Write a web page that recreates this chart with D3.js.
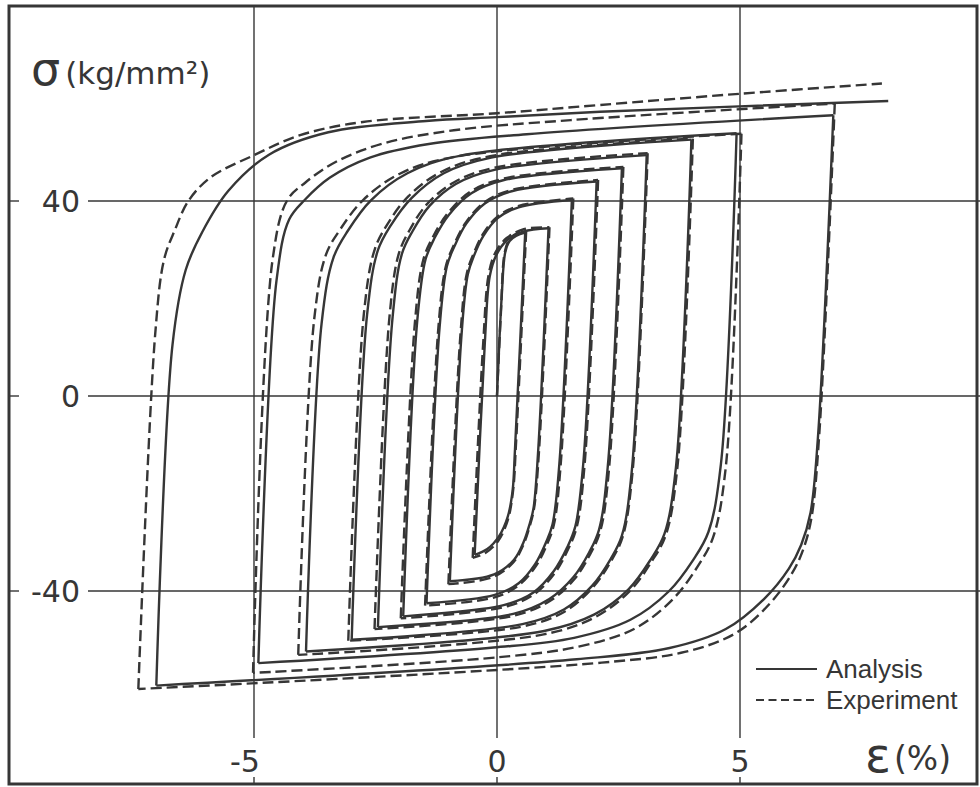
<!DOCTYPE html>
<html>
<head>
<meta charset="utf-8">
<script src="https://cdn.jsdelivr.net/npm/d3@7"></script>
<style>
  body { margin: 0; background: #fff; }
  svg text { fill: #363636; }
</style>
</head>
<body>
<svg id="chart"></svg>
<script>
// axis ticks
const strainTicks = [-5, 0, 5];
const stressTicks = [-40, 0, 40];
const legendItems = ["Analysis", "Experiment"];

// half cycles, points are [strain %, stress kg/mm2]
const analysisBranches = [
  [[0,0],[0.1,21],[0.17,29.5],[0.26,31.8],[0.4,32.9],[0.58,33.5]],
  [[0.58,33.5],[0.37,-11],[0.32,-19.5],[0.22,-24.8],[0.04,-28.8],[-0.2,-31.4],[-0.46,-32.6]],
  [[-0.46,-32.6],[-0.25,11],[-0.15,24.5],[-0.02,28.8],[0.2,31.9],[0.54,33.7],[1.06,34.4]],
  [[1.06,34.4],[0.843,-11.9],[0.75,-23.1],[0.67,-26.3],[0.55,-29.9],[0.35,-33.6],[-0.06,-36.6],[-0.97,-38]],
  [[-0.97,-38],[-0.728,12.8],[-0.60,25.0],[-0.477,28.7],[-0.283,32.8],[0.015,36.5],[0.445,38.7],[1.54,40.2]],
  [[1.54,40.2],[1.283,-13.9],[1.143,-26.3],[1.005,-30.1],[0.784,-34.5],[0.446,-38.4],[-0.046,-40.8],[-1.45,-42.5]],
  [[-1.45,-42.5],[-1.181,14.1],[-1.031,26.6],[-0.876,30.7],[-0.629,35.4],[-0.25,39.5],[0.302,42.0],[2.05,44]],
  [[2.05,44],[1.774,-14],[1.613,-26.7],[1.442,-31.1],[1.17,-35.9],[0.749,-40.3],[0.137,-42.9],[-1.93,-45.2]],
  [[-1.93,-45.2],[-1.642,15.3],[-1.471,28],[-1.285,32.4],[-0.988,37.2],[-0.527,41.6],[0.145,44.3],[2.57,46.7]],
  [[2.57,46.7],[2.278,-14.6],[2.097,-27.5],[1.895,-32.1],[1.57,-37.2],[1.069,-41.7],[0.335,-44.7],[-2.45,-47.4]],
  [[-2.45,-47.4],[-2.147,16.3],[-1.955,29.2],[-1.738,33.8],[-1.389,39],[-0.847,43.5],[-0.053,46.4],[3.08,49.4]],
  [[3.08,49.4],[2.771,-15.6],[2.568,-28.7],[2.335,-33.5],[1.96,-38.9],[1.376,-43.8],[0.522,-46.8],[-2.99,-50]],
  [[-2.99,-50],[-2.672,16.8],[-2.45,29.9],[-2.185,35],[-1.759,40.6],[-1.094,45.7],[-0.119,48.9],[4.0,52.6]],
  [[4.0,52.6],[3.679,-14.9],[3.445,-28.3],[3.165,-33.5],[2.711,-39.6],[2.006,-44.8],[0.97,-48.2],[-3.93,-52.4]],
  [[-3.93,-52.4],[-3.61,14.8],[-3.365,28.4],[-3.069,33.9],[-2.589,40.2],[-1.843,45.7],[-0.746,49.3],[4.93,53.9]],
  [[4.93,53.9],[4.606,-14.1],[4.35,-27.9],[4.038,-33.6],[3.532,-40.1],[2.745,-45.9],[1.587,-49.6],[-0.07,-51.6],[-4.91,-54.8]],
  [[-4.91,-54.8],[-4.536,23.75],[-4.277,36.2],[-3.958,40.2],[-3.436,44.8],[-2.616,48.9],[-1.403,51.7],[0.61,53.7],[6.92,57.6]],
  [[6.92,57.6],[6.6,-9],[6.45,-24],[6.26,-30.5],[6.006,-35.4],[5.498,-41.6],[4.708,-47.8],[3.55,-51.7],[1.64,-54],[-7.01,-59.4]],
  [[-7.01,-59.4],[-6.677,10.5],[-6.404,25.9],[-6.067,33.6],[-5.527,42.1],[-4.692,49.5],[-3.47,54.1],[-1.459,56.4],[0,57.2],[2.12,58.3],[8.05,60.5]]
];

const experimentBranches = [
  [[0,0],[0.08,17],[0.16,29.5],[0.26,32.2],[0.42,33.4],[0.6,33.8]],
  [[0.6,33.8],[0.39,-10],[0.33,-19.5],[0.22,-25.5],[0.02,-29.8],[-0.24,-32.2],[-0.5,-33.2]],
  [[-0.5,-33.2],[-0.283,11],[-0.17,25],[-0.03,29.5],[0.2,32.4],[0.55,34.2],[1.08,34.6]],
  [[1.08,34.6],[0.863,-11.5],[0.76,-23.2],[0.67,-26.8],[0.54,-30.6],[0.33,-34.2],[-0.1,-37.2],[-1.0,-38.6]],
  [[-1.0,-38.6],[-0.753,12.5],[-0.62,25.2],[-0.49,29.0],[-0.29,33.2],[0.01,36.8],[0.45,39.0],[1.57,40.5]],
  [[1.57,40.5],[1.313,-13.7],[1.17,-26.4],[1.03,-30.4],[0.8,-34.9],[0.45,-38.8],[-0.05,-41.3],[-1.48,-43]],
  [[-1.48,-43],[-1.208,13.8],[-1.055,26.5],[-0.895,30.8],[-0.64,35.6],[-0.25,39.8],[0.31,42.3],[2.08,44.3]],
  [[2.08,44.3],[1.803,-14],[1.64,-26.9],[1.465,-31.4],[1.19,-36.3],[0.76,-40.7],[0.14,-43.3],[-1.98,-45.6]],
  [[-1.98,-45.6],[-1.688,15.2],[-1.515,28],[-1.325,32.5],[-1.02,37.4],[-0.55,41.9],[0.14,44.6],[2.6,47]],
  [[2.6,47],[2.308,-14.6],[2.125,-27.7],[1.92,-32.4],[1.59,-37.6],[1.08,-42.1],[0.33,-45.1],[-2.52,-47.8]],
  [[-2.52,-47.8],[-2.213,16.2],[-2.02,29.2],[-1.8,34],[-1.445,39.3],[-0.89,43.8],[-0.07,46.8],[3.1,49.8]],
  [[3.1,49.8],[2.788,-15.7],[2.585,-28.9],[2.35,-33.8],[1.97,-39.3],[1.38,-44.3],[0.51,-47.3],[-3.06,-50.2]],
  [[-3.06,-50.2],[-2.738,17],[-2.515,30.1],[-2.25,35.3],[-1.82,41],[-1.14,46],[-0.14,49.2],[4.03,52.8]],
  [[4.03,52.8],[3.708,-15],[3.47,-28.6],[3.185,-33.9],[2.725,-40.1],[2.01,-45.4],[0.96,-48.9],[-4.09,-53.1]],
  [[-4.09,-53.1],[-3.763,15.6],[-3.519,29],[-3.224,34.2],[-2.745,40.3],[-2.0,45.6],[-0.903,49],[5.03,53.8]],
  [[5.03,53.8],[4.703,-15],[4.446,-29],[4.133,-34.9],[3.626,-41.6],[2.837,-47.7],[1.68,-51.4],[0.02,-53.6],[-5.02,-56.8]],
  [[-5.02,-56.8],[-4.616,28.1],[-4.319,40.1],[-3.941,43.8],[-3.321,48],[-2.343,51.8],[-0.89,54.5],[1.52,56.6],[6.95,60]],
  [[6.95,60],[6.63,-8],[6.47,-25],[6.3,-31.5],[6.069,-36.4],[5.611,-42.6],[4.902,-48.7],[3.864,-52.5],[2.153,-54.7],[-7.38,-60.1]],
  [[-7.38,-60.1],[-7.033,12.7],[-6.85,28],[-6.63,34],[-6.35,40],[-5.9,44.8],[-5.0,49.4],[-4.05,53.5],[-2.76,56.2],[0,58],[2.12,59.7],[5,62],[7.92,64.1]]
];

const width = 980, height = 787;
const ink = "#363636";
const frame = { left: 9, top: 6, right: 977, bottom: 784 };

const svg = d3.select("#chart")
  .attr("width", width)
  .attr("height", height);

const x = d3.scaleLinear().domain([-5, 5]).range([254, 740]);
const y = d3.scaleLinear().domain([-40, 40]).range([591, 201]);

// grid
const grid = svg.append("g")
  .attr("stroke", ink)
  .attr("stroke-width", 1.4);

grid.selectAll(".vtop")
  .data(strainTicks)
  .enter().append("line")
  .attr("x1", d => x(d)).attr("x2", d => x(d))
  .attr("y1", frame.top).attr("y2", 738);

grid.selectAll(".vbot")
  .data(strainTicks)
  .enter().append("line")
  .attr("x1", d => x(d)).attr("x2", d => x(d))
  .attr("y1", 777).attr("y2", frame.bottom);

grid.selectAll(".hline")
  .data(stressTicks)
  .enter().append("line")
  .attr("x1", 88).attr("x2", width)
  .attr("y1", d => y(d)).attr("y2", d => y(d));

grid.selectAll(".htick")
  .data(stressTicks)
  .enter().append("line")
  .attr("x1", frame.left).attr("x2", 19)
  .attr("y1", d => y(d)).attr("y2", d => y(d));

// frame
svg.append("path")
  .attr("d", `M${frame.right},${frame.top}H${frame.left}V${frame.bottom}H${frame.right}Z`)
  .attr("fill", "none")
  .attr("stroke", ink)
  .attr("stroke-width", 3);

// tick labels
svg.selectAll(".xlab")
  .data(strainTicks)
  .enter().append("text")
  .attr("x", d => x(d) + (d < 0 ? -9 : 0))
  .attr("y", 772)
  .attr("text-anchor", "middle")
  .attr("font-family", "DejaVu Sans")
  .attr("font-size", 30)
  .text(d => d < 0 ? "-" + Math.abs(d) : d);

svg.selectAll(".ylab")
  .data(stressTicks)
  .enter().append("text")
  .attr("x", 80)
  .attr("y", d => y(d) + 11)
  .attr("text-anchor", "end")
  .attr("font-family", "DejaVu Sans")
  .attr("font-size", 30)
  .text(d => d < 0 ? "-" + Math.abs(d) : d);

// axis titles
const ytitle = svg.append("text")
  .attr("x", 31).attr("y", 85)
  .attr("font-family", "DejaVu Sans");
ytitle.append("tspan").attr("font-size", 46).text("σ");
ytitle.append("tspan").attr("font-size", 31).attr("dx", 5).attr("dy", -1).text("(kg/mm²)");

const xtitle = svg.append("text")
  .attr("x", 865).attr("y", 772)
  .attr("font-family", "DejaVu Sans");
xtitle.append("tspan").attr("font-size", 48).text("ε");
xtitle.append("tspan").attr("font-size", 33).attr("dx", 3).attr("dy", -2).text("(%)");

// loops
const line = d3.line()
  .x(d => x(d[0]))
  .y(d => y(d[1]))
  .curve(d3.curveCatmullRom.alpha(0.5));

svg.append("g")
  .selectAll("path")
  .data(experimentBranches)
  .enter().append("path")
  .attr("d", line)
  .attr("fill", "none")
  .attr("stroke", ink)
  .attr("stroke-width", 2.4)
  .attr("stroke-dasharray", "11,5");

svg.append("g")
  .selectAll("path")
  .data(analysisBranches)
  .enter().append("path")
  .attr("d", line)
  .attr("fill", "none")
  .attr("stroke", ink)
  .attr("stroke-width", 2.4);

// legend
const legend = svg.append("g");
legend.selectAll("line")
  .data(legendItems)
  .enter().append("line")
  .attr("x1", 756).attr("x2", 817)
  .attr("y1", (d, i) => 669 + i * 31).attr("y2", (d, i) => 669 + i * 31)
  .attr("stroke", ink)
  .attr("stroke-width", 2)
  .attr("stroke-dasharray", (d, i) => i ? "8,4.5" : null);

legend.selectAll("text")
  .data(legendItems)
  .enter().append("text")
  .attr("x", 826)
  .attr("y", (d, i) => 678 + i * 31)
  .attr("font-family", "Liberation Sans")
  .attr("font-size", 26)
  .text(d => d);
</script>
</body>
</html>
